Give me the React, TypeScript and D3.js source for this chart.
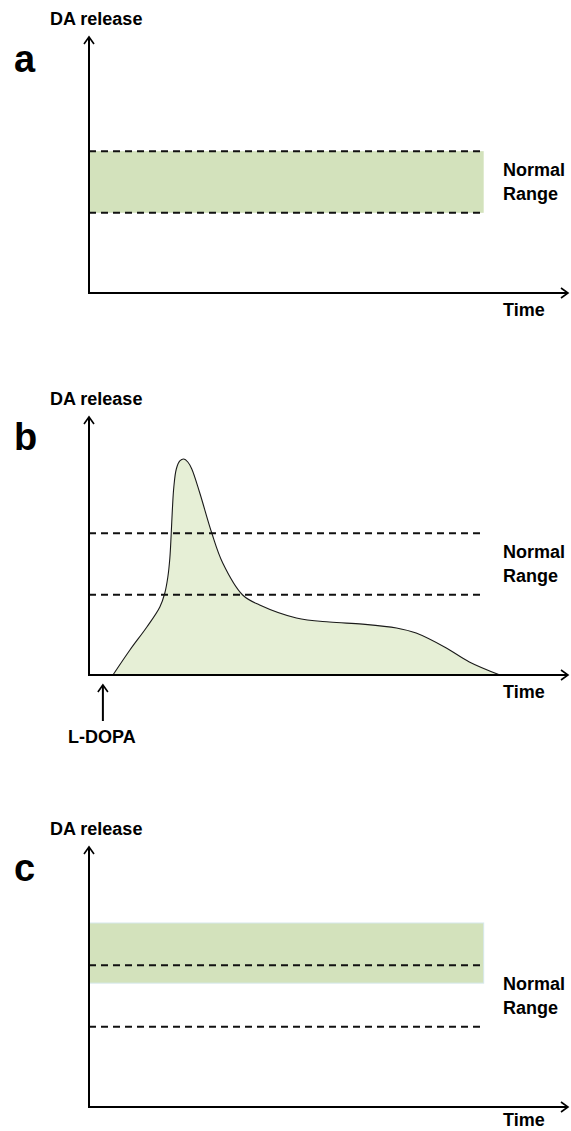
import * as d3 from "d3";

// panel letters
const panelLabels = ["a", "b", "c"];

// normal range (dashed lines), DA units 0..100
const normalLow = 31.2;
const normalHigh = 55.2;

// shaded bands for panels a and c
const bandA = [31.2, 55.2];
const bandC = [48.2, 71.6];
const rangeEndTime = 82.4;

// L-DOPA response curve for panel b
const ldopaTime = [5.0, 8.54, 12.08, 14.79, 15.83, 16.46, 16.88, 17.15, 17.4, 17.71, 18.23, 18.96, 19.79, 20.63, 21.46, 23.13, 25.63, 27.92, 32.08, 35.63, 43.3, 50.2, 57.1, 64.2, 68.3, 74.6, 79.4, 85.8];
const ldopaLevel = [0, 9.73, 18.68, 26.46, 31.91, 38.13, 45.53, 54.47, 64.2, 73.15, 80.16, 83.27, 84.05, 82.88, 80.16, 70.82, 55.25, 43.58, 31.13, 27.24, 22.2, 20.6, 19.8, 18.3, 16.3, 10.5, 5.1, 0];
const ldopaDoseTime = 2.9;

const FONT = "'Liberation Sans', Arial, Helvetica, sans-serif";

type PanelProps = {
    label: string;
    axisY: number;
    tipY: number;
    titleY: number;
    letterY: number;
};

const width = 571;
const height = 1131;
const x0 = 89;
const xEnd = 568;

const xScale = d3.scaleLinear().domain([0, 100]).range([x0, xEnd]);

function Panel({ label, axisY, tipY, titleY, letterY }: PanelProps) {
    const yScale = d3.scaleLinear().domain([0, 100]).range([axisY, axisY - 257]);

    const dashed = [normalLow, normalHigh];
    const band = label === "a" ? bandA : label === "c" ? bandC : null;

    const points = ldopaTime.map((t, i) => [t, ldopaLevel[i]] as [number, number]);
    const curve = d3.curveCatmullRom.alpha(0.5);
    const area = d3
        .area<[number, number]>()
        .x((d) => xScale(d[0]))
        .y0(axisY)
        .y1((d) => yScale(d[1]))
        .curve(curve);
    const line = d3
        .line<[number, number]>()
        .x((d) => xScale(d[0]))
        .y((d) => yScale(d[1]))
        .curve(curve);

    return (
        <g>
            <text x={50} y={titleY} fontSize="18" fontWeight="bold" fontFamily={FONT}>
                DA release
            </text>
            <text x={14} y={letterY} fontSize="38" fontWeight="bold" fontFamily={FONT}>
                {label}
            </text>

            {band && (
                <rect
                    x={xScale(0)}
                    y={yScale(band[1])}
                    width={xScale(rangeEndTime) - xScale(0)}
                    height={yScale(band[0]) - yScale(band[1])}
                    fill="#d3e2bc"
                    stroke={label === "c" ? "#d6e8ec" : "none"}
                    strokeWidth="1"
                />
            )}

            {label === "b" && (
                <g>
                    <path d={area(points) ?? ""} fill="#e6efd6" />
                    <path d={line(points) ?? ""} fill="none" stroke="#1a1a1a" strokeWidth="1.1" />
                </g>
            )}

            {dashed.map((v) => (
                <line
                    key={v}
                    x1={xScale(0)}
                    x2={xScale(rangeEndTime)}
                    y1={yScale(v)}
                    y2={yScale(v)}
                    stroke="#111"
                    strokeWidth="2"
                    strokeDasharray="7 5"
                />
            ))}

            {/* axes */}
            <line x1={x0} x2={x0} y1={axisY + 1} y2={tipY} stroke="#000" strokeWidth="2" />
            <line x1={x0 - 1} x2={xEnd} y1={axisY} y2={axisY} stroke="#000" strokeWidth="2" />
            <path
                d={`M${x0 - 5},${tipY + 7}L${x0},${tipY}L${x0 + 5},${tipY + 7}`}
                fill="none"
                stroke="#000"
                strokeWidth="1.6"
            />
            <path
                d={`M${xEnd - 7},${axisY - 5}L${xEnd},${axisY}L${xEnd - 7},${axisY + 5}`}
                fill="none"
                stroke="#000"
                strokeWidth="1.6"
            />

            <text x={503} y={axisY - 117} fontSize="18" fontWeight="bold" fontFamily={FONT}>
                Normal
            </text>
            <text x={503} y={axisY - 93} fontSize="18" fontWeight="bold" fontFamily={FONT}>
                Range
            </text>
            <text x={503} y={Math.min(axisY + 23, height - 5)} fontSize="18" fontWeight="bold" fontFamily={FONT}>
                Time
            </text>

            {label === "b" && (
                <g>
                    <line
                        x1={xScale(ldopaDoseTime)}
                        x2={xScale(ldopaDoseTime)}
                        y1={axisY + 46}
                        y2={axisY + 10}
                        stroke="#000"
                        strokeWidth="2"
                    />
                    <path
                        d={`M${xScale(ldopaDoseTime) - 5},${axisY + 17}L${xScale(ldopaDoseTime)},${axisY + 10}L${xScale(ldopaDoseTime) + 5},${axisY + 17}`}
                        fill="none"
                        stroke="#000"
                        strokeWidth="1.6"
                    />
                    <text
                        x={xScale(ldopaDoseTime) - 1}
                        y={axisY + 68}
                        textAnchor="middle"
                        fontSize="18"
                        fontWeight="bold"
                        fontFamily={FONT}
                    >
                        L-DOPA
                    </text>
                </g>
            )}
        </g>
    );
}

export default function App() {
    const layout = [
        { axisY: 293, tipY: 37, titleY: 25, letterY: 72 },
        { axisY: 675, tipY: 417, titleY: 405, letterY: 450 },
        { axisY: 1107, tipY: 847, titleY: 835, letterY: 881 },
    ];

    return (
        <svg
            width={width}
            height={height}
            viewBox={`0 0 ${width} ${height}`}
            style={{ position: "absolute", left: 0, top: 0, background: "#fff" }}
        >
            {panelLabels.map((label, i) => (
                <Panel key={label} label={label} {...layout[i]} />
            ))}
        </svg>
    );
}
